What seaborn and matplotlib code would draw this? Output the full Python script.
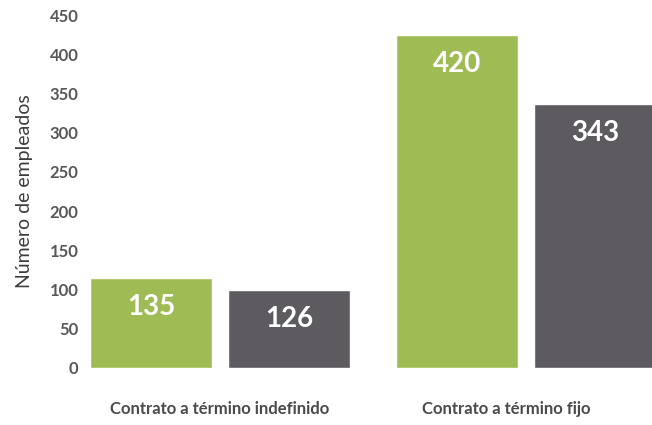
import matplotlib
matplotlib.use("Agg")
import matplotlib.pyplot as plt
import matplotlib.transforms as mtransforms
import seaborn as sns
import pandas as pd

# ---- data ----
categories = ["Contrato a término indefinido", "Contrato a término fijo"]
series = ["Serie A", "Serie B"]
# bar heights as drawn in the reference
heights_a = [115, 425]
heights_b = [100, 337]
# value labels printed on the bars
labels_a = ["135", "420"]
labels_b = ["126", "343"]
yticks = [0, 50, 100, 150, 200, 250, 300, 350, 400, 450]

colors = ["#9ebc53", "#5d5b5f"]
text_gray = "#58585a"

df = pd.DataFrame({
    "categoria": categories * 2,
    "serie": [series[0]] * 2 + [series[1]] * 2,
    "valor": heights_a + heights_b,
})

sns.set_style("white")
plt.rcParams["font.family"] = ["Lato", "DejaVu Sans"]

W, H, DPI = 652, 425, 100
fig = plt.figure(figsize=(W / DPI, H / DPI), dpi=DPI)
ax = fig.add_axes([80 / W, (H - 368) / H, 1 - 80 / W, 353 / H])

sns.barplot(data=df, x="categoria", y="valor", hue="serie", order=categories,
            hue_order=series, palette=colors, width=0.902, gap=0.115,
            saturation=1, legend=False, ax=ax)

ax.set_xlim(-0.457, 1.412)
ax.set_ylim(0, 450)
ax.set_yticks(yticks)
ax.set_yticklabels([str(t) for t in yticks], fontsize=12, fontweight="bold",
                   color=text_gray)
ax.tick_params(axis="both", length=0)
ax.tick_params(axis="y", pad=1)
ax.tick_params(axis="x", pad=24)
for lab in ax.get_xticklabels():
    lab.set_fontsize(12)
    lab.set_fontweight("bold")
    lab.set_color("#4a4a4c")
# shift the second category label slightly left as in the reference
xl = ax.get_xticklabels()
xl[1].set_transform(xl[1].get_transform() +
                    mtransforms.ScaledTranslation(-20 / DPI, 0, fig.dpi_scale_trans))

ax.set_xlabel("")
ax.set_ylabel("Número de empleados", fontsize=14, color="#3c3c3e")
ax.yaxis.set_label_coords(-0.082, 0.5)
sns.despine(ax=ax, left=True, bottom=True)

# value labels inside bars
patches = [p for p in ax.patches if p.get_height() > 0]
patches.sort(key=lambda p: p.get_x())
order_labels = [labels_a[0], labels_b[0], labels_a[1], labels_b[1]]
for p, txt in zip(patches, order_labels):
    ax.annotate(txt, (p.get_x() + p.get_width() / 2, p.get_height()),
                xytext=(0, -21), textcoords="offset points",
                ha="center", va="center", color="white",
                fontsize=20, fontweight="bold")

fig.savefig("out.png", dpi=DPI)
